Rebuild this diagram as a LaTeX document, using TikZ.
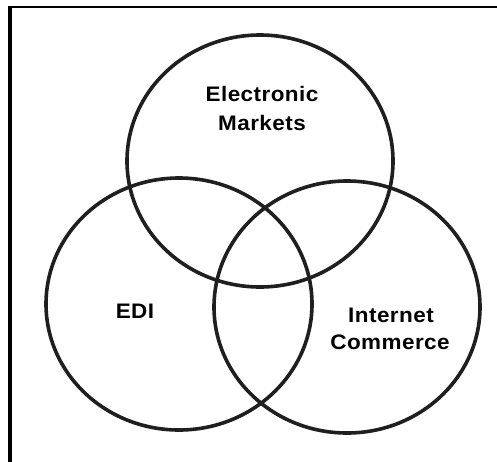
\documentclass[tikz,border=0pt]{standalone}
\usepackage{fontspec}
\setmainfont{Liberation Sans}
\newfontfamily\labelfont[LetterSpace=2]{Liberation Sans}
\begin{document}
\begin{tikzpicture}[x=1pt,y=-1pt,
  setring/.style={draw=black!88,line width=3.6pt},
  setlabel/.style={font=\labelfont\bfseries\fontsize{21}{25}\selectfont,anchor=base,inner sep=0pt,xscale=1.07,text=black}]
\useasboundingbox (0,0) rectangle (497,461);
% frame: only its top and left edges fall inside the page
\draw[line width=2.6pt] (8.5,7) -- (500,7);
\draw[line width=4pt] (10,5.7) -- (10,465);
% the three sets
\draw[setring] (260,161) ellipse [x radius=133,y radius=126];
\draw[setring] (179,304) ellipse [x radius=133,y radius=126];
\draw[setring] (347,307) ellipse [x radius=133,y radius=126];
% labels
\node[setlabel] (em1) at (262,101.5) {Electronic};
\node[setlabel] (em2) at (262,130.5) {Markets};
\node[setlabel] (edi) at (135,318) {EDI};
\node[setlabel] (ic1) at (391,322) {Internet};
\node[setlabel] (ic2) at (390,349) {Commerce};
\end{tikzpicture}
\end{document}
